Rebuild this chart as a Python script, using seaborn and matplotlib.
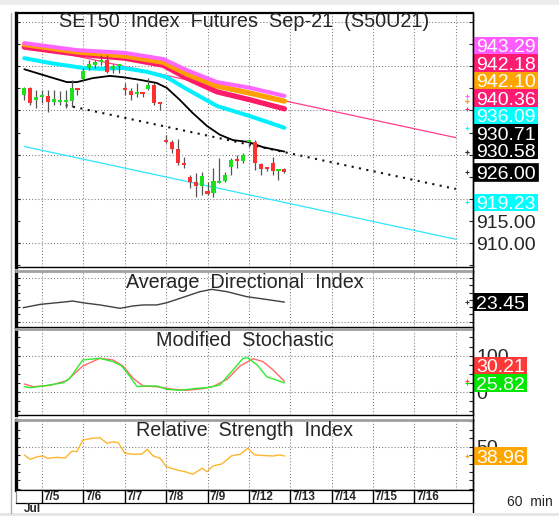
"""
SET50 index futures (S50U21) hourly chart with ADX, stochastic and RSI panels.
Values were read off the reference picture.
"""

import numpy as np
import pandas as pd
import matplotlib
matplotlib.use("Agg")
import matplotlib.pyplot as plt
from matplotlib.patches import Rectangle
from matplotlib.lines import Line2D
from matplotlib.ticker import MultipleLocator, FuncFormatter
from matplotlib.transforms import IdentityTransform
import seaborn as sns

# bar index 0 = first hourly bar of 7/5, 7 bars per session day
bar_idx = list(range(-3, 42))
opens = [943.5, 945.1, 942.4, 943.0, 943.3, 941.9, 942.0, 941.9, 942.1, 944.9,
         947.1, 949.6, 950.3, 951.0, 951.4, 949.4, 950.0,
         945.1, 944.4, 943.7, 943.9, 944.8, 945.7, 941.6,
         933.3, 932.9, 931.3, 928.1, 925.0, 923.8, 922.9,
         921.8, 921.4, 923.7, 924.1, 927.2, 929.0, 928.6,
         932.9, 932.9, 927.9, 926.9, 928.1, 926.3, 926.8]
highs = [945.3, 945.3, 944.6, 944.6, 944.6, 944.6, 944.4, 944.6, 946.9, 945.1,
         949.6, 951.4, 951.4, 952.5, 952.5, 950.5, 950.5,
         946.2, 945.1, 946.2, 944.2, 947.3, 946.2, 941.9,
         934.5, 933.3, 933.5, 929.5, 925.4, 925.9, 926.1,
         923.8, 927.0, 929.3, 926.2, 929.3, 929.9, 930.4,
         933.3, 933.3, 928.1, 927.2, 929.5, 926.6, 927.0]
lows = [942.4, 941.2, 940.5, 941.7, 939.6, 941.2, 941.2, 940.5, 940.8, 943.5,
        946.9, 949.1, 949.6, 950.3, 948.4, 948.4, 948.4,
        943.5, 942.4, 943.1, 943.0, 944.6, 941.2, 940.1,
        932.6, 930.4, 927.7, 927.0, 922.5, 920.5, 921.0,
        920.9, 920.5, 923.6, 923.9, 925.4, 927.0, 928.1,
        931.7, 926.6, 925.4, 926.3, 925.4, 924.3, 925.9]
closes = [945.1, 941.7, 943.0, 943.5, 941.9, 942.6, 942.4, 942.4, 945.1, 944.7,
          948.9, 950.5, 951.0, 951.4, 948.7, 950.0, 950.1,
          944.6, 943.5, 944.0, 943.6, 945.7, 941.7, 941.4,
          932.9, 931.3, 928.1, 927.7, 923.8, 922.9, 925.2,
          921.1, 924.1, 924.1, 925.4, 928.8, 928.6, 929.9,
          933.1, 928.1, 926.8, 926.7, 926.3, 926.8, 926.0]

# moving averages (knots along the curve)
ma_idx = [-3, 6, 14, 20.5, 24.5, 29.6, 35.2, 41]
ma_violet = [955.2, 953.6, 953.0, 951.6, 949.1, 946.4, 945.1, 943.29]
ma_orange = [954.9, 953.2, 952.3, 950.9, 948.2, 945.5, 943.9, 942.10]
ma_crimson = [954.3, 952.7, 951.8, 950.2, 947.3, 944.2, 942.4, 940.36]
cyan_idx = [-3, 1.4, 6.9, 9.8, 13.7, 17.8, 21.1, 24.5, 29.6, 35.2, 41]
ma_cyan = [951.8, 950.7, 949.6, 949.4, 949.6, 948.7, 947.5, 944.8, 941.0, 938.7, 936.09]
black_idx = [-3, 0.2, 4.2, 5.9, 8.6, 11.5, 13.7, 16.6, 19.4, 21.1, 23.3, 25.5,
             27.9, 30.1, 32.3, 34.8, 37.4, 41]
ma_black = [949.3, 948.0, 946.4, 946.4, 947.3, 947.8, 947.5, 946.9, 946.2, 945.1,
            942.4, 939.4, 936.5, 934.5, 933.3, 932.9, 931.7, 930.71]

# regression channel end points
chan_idx = [-3, 70]
chan_upper = [954.81, 933.86]
chan_lower = [931.86, 910.91]
chan_mid_idx = [4, 70]
chan_mid = [941.2, 922.26]

# right-hand value tags of the price panel
tag_vals = [943.29, 942.18, 942.10, 940.36, 936.09, 930.71, 930.58, 926.00, 919.23]
tag_colors = ["#ff5cff", "#ff1a72", "#ffa500", "#ff1a72", "#00ffff",
              "black", "black", "black", "#00ffff"]
price_ticks = [910, 915]

adx_idx = [-3.2, -0.3, 4.2, 5.2, 6.9, 9.8, 13.2, 15.4, 17.1, 19.4, 21.1, 24.5,
           26.7, 28.7, 31.3, 34.6, 37.4, 41]
adx = [19.6, 21.9, 23.7, 24.2, 23.0, 21.5, 19.2, 20.8, 21.5, 21.5, 23.0, 27.6,
       30.6, 32.2, 30.6, 27.2, 25.6, 23.45]

stk_idx = [-3, -2, 0.2, 3.6, 4.7, 6.9, 9.8, 12.0, 13.5, 14.9, 16.1, 17.4, 19.4,
           21.1, 23.3, 26.2, 27.9, 30.1, 32.3, 34.0, 34.8, 36.4, 38.0, 41]
stoch_k = [15.3, 12.6, 17.2, 26.2, 38.3, 88.3, 92.9, 83.6, 71.9, 42.6, 15.3, 17.2,
           17.2, 8.2, 5.5, 10.9, 12.6, 19.9, 60.9, 92.9, 94.5, 74.6, 42.6, 25.82]
std_idx = [-3, -1.5, 1.4, 4.2, 6.9, 9.8, 12.0, 13.7, 15.4, 17.1, 19.4, 22.2,
           24.5, 26.7, 28.9, 31.3, 33.5, 35.7, 37.4, 39.1, 41]
stoch_d = [22.7, 15.3, 19.1, 31.7, 71.9, 92.9, 88.3, 71.9, 38.3, 17.2, 15.3, 8.2,
           5.5, 9.0, 15.3, 35.5, 71.9, 91.8, 83.6, 60.9, 30.21]

rsi_idx = [-3, -2, -0.8, 0.2, 1.0, 2.5, 3.9, 5.1, 5.9, 6.9, 8.5, 9.8, 11.0, 12.0,
           12.9, 14.0, 15.4, 16.9, 17.8, 18.8, 20.0, 21.0, 22.8, 24.2, 25.5, 27.1,
           27.9, 28.9, 30.4, 32.1, 33.5, 34.8, 36.0, 38.0, 39.1, 40.2, 41]
rsi = [40.2, 35.0, 38.1, 39.0, 36.2, 37.4, 36.6, 44.9, 44.1, 57.9, 60.0, 60.7,
       54.0, 55.9, 54.7, 42.2, 41.0, 41.3, 46.9, 39.0, 36.2, 26.3, 22.4, 20.3,
       17.3, 24.4, 20.3, 27.1, 29.5, 39.3, 41.0, 48.1, 40.2, 39.3, 39.0, 40.2, 38.96]

day_labels = ["7/5", "7/6", "7/7", "7/8", "7/9", "7/12", "7/13", "7/14", "7/15", "7/16"]
day_start = [0, 7, 14, 21, 28, 35, 42, 49, 56, 63]
grid_days = day_start + [70]

GREEN, RED = "#1ee01e", "#ff3030"
GRID = dict(color="#7a7a7a", lw=0.75, ls=(0, (1, 2)), zorder=0)

sns.set_style("white")
plt.rcParams["font.family"] = ["Liberation Sans", "DejaVu Sans"]

W, H = 559, 516
fig = plt.figure(figsize=(W / 100, H / 100), dpi=100)


def px_axes(x0, y0, x1, y1):
    return fig.add_axes([x0 / W, 1 - y1 / H, (x1 - x0) / W, (y1 - y0) / H])


def style_panel(ax, ylim, grid_y, step):
    ax.set_xlim(-4.4, 72.9)
    ax.set_ylim(*ylim)
    for d in grid_days:
        ax.axvline(d, **GRID)
    for g in grid_y:
        ax.axhline(g, **GRID)
    ax.set_xticks([])
    ax.yaxis.set_major_locator(MultipleLocator(step))
    ax.tick_params(axis="y", direction="in", length=3, width=0.8, left=True,
                   right=True, labelleft=False, labelright=False, pad=2.5,
                   labelsize=14)
    for s in ax.spines.values():
        s.set_color("black")
        s.set_linewidth(1)
        s.set_visible(True)
    ax.spines["left"].set_linewidth(2.4)
    ax.spines["top"].set_color("#a0a0a0")
    ax.spines["top"].set_linewidth(2)


def line(ax, x, y, color, lw, z=3, **kw):
    sns.lineplot(x=x, y=y, ax=ax, color=color, linewidth=lw, zorder=z,
                 estimator=None, sort=False, legend=False, **kw)


def value_tags(ax, vals, colors, close_at=None):
    ys = [ax.transData.transform((0, v))[1] for v in vals]
    for i in range(len(ys) - 2, -1, -1):
        gap = 22 if close_at is not None and i + 1 == close_at else 17.5
        ys[i] = max(ys[i], ys[i + 1] + gap)
    rend = fig.canvas.get_renderer()
    for k, (v, c, y) in enumerate(zip(vals, colors, ys)):
        t = fig.text(476 / W, (y - 7) / H, f"{v:.2f}", color="white", fontsize=14,
                     ha="left", va="baseline", zorder=6)
        bb = t.get_window_extent(rend)
        ec = "black" if k == close_at else "none"
        fig.add_artist(Rectangle((474, y - 8.75), bb.x1 - 474 + 2.5, 17.5,
                                 transform=IdentityTransform(), fc=c, ec=ec,
                                 lw=1.2, zorder=5))
        ax.plot(71.9, v, marker="+", ms=3, mew=0.8, color=c if c != "black" else "#333",
                zorder=6, clip_on=False)


# ---------------- price panel
ax = px_axes(16, 13, 473, 267)
style_panel(ax, (904.65, 962.0), range(910, 961, 10), 5)
ax.spines["top"].set_color("black")
ax.spines["top"].set_linewidth(1.6)
ax.yaxis.set_major_formatter(FuncFormatter(lambda v, p: f"{v:.2f}" if v in price_ticks else ""))
ax.tick_params(axis="y", labelright=True)

line(ax, chan_idx, chan_upper, "#ff3d8b", 0.9, z=2)
line(ax, chan_idx, chan_lower, "#2ee6ff", 0.9, z=2)
line(ax, chan_mid_idx, chan_mid, "#111111", 1.5, z=2, dashes=(1, 2.6))
line(ax, ma_idx, ma_crimson, "#ff1a6a", 3.8)
line(ax, ma_idx, ma_orange, "#ffa000", 3.8)
line(ax, ma_idx, ma_violet, "#ff66ff", 2.9)
line(ax, cyan_idx, ma_cyan, "#00f0ff", 2.9)
line(ax, black_idx, ma_black, "black", 1.3)

df = pd.DataFrame({"i": bar_idx, "o": opens, "h": highs, "l": lows, "c": closes})
rising = df["c"] >= df["o"]
ax.vlines(df["i"], df["l"], df["h"], color="#555555", lw=0.9, zorder=4)
ax.bar(df["i"], (df["c"] - df["o"]).abs().clip(lower=0.45),
       bottom=df[["o", "c"]].min(axis=1), width=0.7,
       color=np.where(rising, GREEN, RED), linewidth=0, zorder=5)

ax.text(0.5, 0.965, "SET50  Index  Futures  Sep-21  (S50U21)", transform=ax.transAxes,
        ha="center", va="center", fontsize=14.3, zorder=6)
value_tags(ax, tag_vals, tag_colors, close_at=7)

# ---------------- ADX
ax2 = px_axes(16, 271, 473, 327)
style_panel(ax2, (6.36, 44.8), [10, 40], 5)
line(ax2, adx_idx, adx, "#404040", 1.0)
ax2.text(0.5, 0.79, "Average  Directional  Index", transform=ax2.transAxes,
         ha="center", va="center", fontsize=14.2)
value_tags(ax2, [adx[-1]], ["black"])

# ---------------- stochastic
ax3 = px_axes(16, 329, 473, 415)
style_panel(ax3, (-62.0, 172.9), [0, 100], 25)
ax3.yaxis.set_major_formatter(FuncFormatter(lambda v, p: f"{v:.0f}" if v in (0, 100) else ""))
ax3.tick_params(axis="y", labelright=True)
line(ax3, std_idx, stoch_d, "#ff6a6a", 1.0)
line(ax3, stk_idx, stoch_k, "#2bef2b", 1.0)
ax3.text(0.5, 0.87, "Modified  Stochastic", transform=ax3.transAxes,
         ha="center", va="center", fontsize=14.2)
value_tags(ax3, [stoch_d[-1], stoch_k[-1]], ["#ff3838", "#00e600"])

# ---------------- RSI
ax4 = px_axes(16, 420, 473, 490)
style_panel(ax4, (-1.4, 81.7), [50], 10)
ax4.yaxis.set_major_formatter(FuncFormatter(lambda v, p: f"{v:.0f}" if v == 50 else ""))
ax4.tick_params(axis="y", labelright=True)
line(ax4, rsi_idx, rsi, "#ffb52e", 1.0)
ax4.text(0.5, 0.855, "Relative  Strength  Index", transform=ax4.transAxes,
         ha="center", va="center", fontsize=14.2)
value_tags(ax4, [rsi[-1]], ["#ffa500"])

# ---------------- date strip
axd = px_axes(16, 490, 473, 503)
axd.set_xlim(-4.4, 72.9)
axd.set_ylim(0, 1)
axd.set_xticks([])
axd.set_yticks([])
for s in axd.spines.values():
    s.set_color("black")
    s.set_linewidth(0.9)
axd.spines["left"].set_color("#909090")
axd.vlines(day_start, 0, 1, color="black", lw=1)
for d, lab in zip(day_start, day_labels):
    axd.text(d + 0.3, 0.45, lab, fontsize=8.5, fontweight="bold", ha="left", va="center")

fig.text(24 / W, 1 - 508.5 / H, "Jul", fontsize=8.5, fontweight="bold", va="center")
fig.text(507 / W, 1 - 502 / H, "60  min", fontsize=10, va="center")

# frame bits
fig.add_artist(Line2D([473, 473], [0, H - 13], transform=IdentityTransform(),
                      color="black", lw=1, zorder=7))
fig.add_artist(Rectangle((0, H - 5), W, 5, transform=IdentityTransform(),
                         fc="#ececec", ec="none", zorder=7))
fig.add_artist(Rectangle((0, 0), W, 3, transform=IdentityTransform(),
                         fc="#e6e6e6", ec="none", zorder=7))
fig.add_artist(Line2D([11, 11], [3, H - 13], transform=IdentityTransform(),
                      color="#b0b0b0", lw=1, zorder=7))

fig.savefig("out.png", dpi=100, facecolor="white")
